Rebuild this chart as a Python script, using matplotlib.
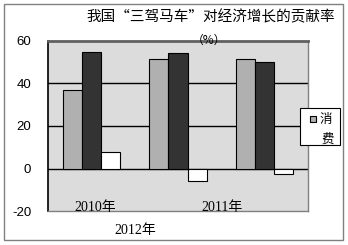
import matplotlib
matplotlib.use("Agg")
import matplotlib.pyplot as plt
from matplotlib.patches import Rectangle
import numpy as np

groups = ["g1", "g2", "g3"]
consumption = [37, 51.5, 51.5]
investment = [54.8, 54.2, 50]
net_export = [8, -6, -2.4]
series_colors = ["#b0b0b0", "#333333", "#ffffff"]
legend_label = "消费"
year_labels = ["2010年", "2011年", "2012年"]
title = "我国“三驾马车”对经济增长的贡献率"
unit = "（%）"
yticks = [-20, 0, 20, 40, 60]

W, H = 348, 245
fig = plt.figure(figsize=(W / 100, H / 100), dpi=100)
fig.patch.set_facecolor("white")
fig.add_artist(Rectangle((4 / W, 5 / H), 339 / W, 236 / H, transform=fig.transFigure,
                         fill=False, edgecolor="#808080", lw=1.0))

ax = fig.add_axes([48 / W, 1 - 211 / H, 260 / W, 170 / H])
ax.set_facecolor("#dcdcdc")
x = np.arange(len(groups))
bw = 0.22
for i, (vals, c) in enumerate(zip([consumption, investment, net_export], series_colors)):
    ax.bar(x + (i - 1) * bw, vals, bw, color=c, edgecolor="black", linewidth=0.8, zorder=3)

ax.set_xlim(-0.5, 2.5)
ax.set_ylim(-20, 60)
ax.set_yticks(yticks)
ax.set_yticklabels([str(v) for v in yticks], family="Liberation Sans", fontsize=9.5)
ax.tick_params(axis="y", length=0, pad=12)
ax.set_xticks([])
for v in [0, 20, 40]:
    ax.axhline(v, color="black", lw=1.0, zorder=2)
for s in ["right", "bottom"]:
    ax.spines[s].set_color("#808080")
    ax.spines[s].set_linewidth(1.0)
ax.spines["left"].set_color("black")
ax.spines["left"].set_linewidth(1.2)
ax.spines["top"].set_color("#606060")
ax.spines["top"].set_linewidth(2.0)

fnt = ["Liberation Serif", "Noto Sans CJK SC"]
fig.text(95 / W, 1 - 208 / H, year_labels[0], ha="center", va="center", family=fnt, fontsize=10)
fig.text(222 / W, 1 - 208 / H, year_labels[1], ha="center", va="center", family=fnt, fontsize=10)
fig.text(135 / W, 1 - 230 / H, year_labels[2], ha="center", va="center", family=fnt, fontsize=10)

fig.text(211 / W, 1 - 17 / H, title, ha="center", va="center",
         family=["Noto Sans CJK SC", "DejaVu Sans"], fontsize=10.5)
fig.text(209 / W, 1 - 40 / H, unit, ha="center", va="center",
         family=["Noto Sans CJK SC", "DejaVu Sans"], fontsize=8.5)

# legend box
fig.add_artist(Rectangle((300 / W, 1 - 145 / H), 40 / W, 37 / H, transform=fig.transFigure,
                         facecolor="white", edgecolor="black", lw=0.8, zorder=5))
fig.add_artist(Rectangle((310 / W, 1 - 122 / H), 6 / W, 6 / H, transform=fig.transFigure,
                         facecolor=series_colors[0], edgecolor="black", lw=0.8, zorder=6))
fig.text(326 / W, 1 - 119 / H, legend_label[0], ha="center", va="center",
         family="Noto Sans CJK SC", fontsize=9, zorder=6)
fig.text(328 / W, 1 - 139 / H, legend_label[1], ha="center", va="center",
         family="Noto Sans CJK SC", fontsize=9, zorder=6)

fig.savefig("out.png", dpi=100)
